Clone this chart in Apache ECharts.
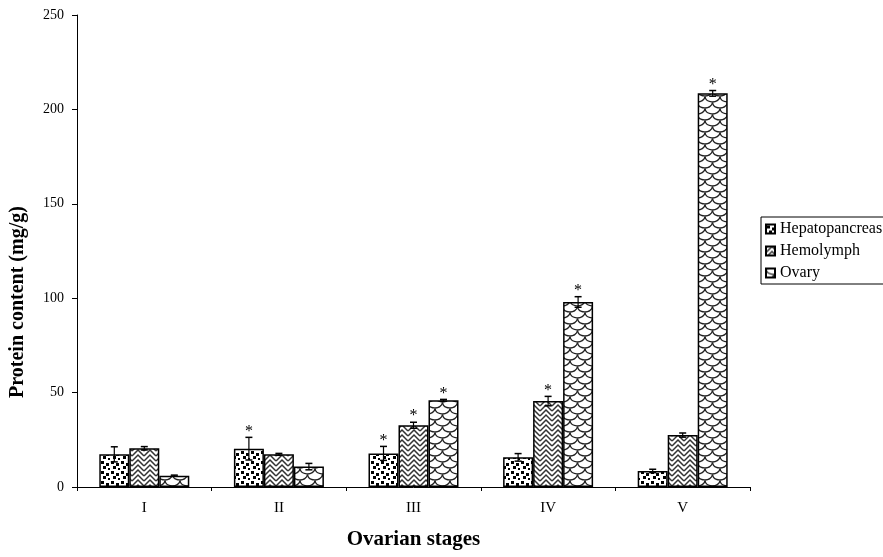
<!DOCTYPE html>
<html>
<head>
<meta charset="utf-8">
<script src="https://cdn.jsdelivr.net/npm/echarts@6/dist/echarts.min.js"></script>
<style>
html,body{margin:0;padding:0;background:#fff;}
#chart{width:883px;height:557px;}
</style>
</head>
<body>
<div id="chart"></div>
<script>
// ---- data ----
const categories = ['I', 'II', 'III', 'IV', 'V'];
const seriesNames = ['Hepatopancreas', 'Hemolymph', 'Ovary'];
const hepatopancreas = [17.3, 20.3, 17.8, 15.7, 8.5];
const hemolymph = [20.5, 17.3, 32.7, 45.5, 27.5];
const ovary = [6.0, 10.8, 45.9, 98.0, 208.5];
const hepatopancreasErr = [4.0, 6.0, 3.7, 2.0, 0.9];
const hemolymphErr = [0.9, 0.5, 1.6, 2.5, 1.1];
const ovaryErr = [0.3, 1.7, 0.5, 2.8, 1.5];
const hepatopancreasSig = [0, 1, 1, 0, 0];
const hemolymphSig = [0, 0, 1, 1, 0];
const ovarySig = [0, 0, 1, 1, 1];
const yTicks = [0, 50, 100, 150, 200, 250];

// ---- patterns ----
function makeTile(w, h, draw) {
  const c = document.createElement('canvas');
  c.width = w; c.height = h;
  const ctx = c.getContext('2d');
  ctx.fillStyle = '#fff';
  ctx.fillRect(0, 0, w, h);
  ctx.fillStyle = '#000';
  ctx.strokeStyle = '#000';
  draw(ctx);
  return c;
}
const dotTile = makeTile(10, 10, ctx => {
  ctx.fillRect(1, 1, 3, 3);
  ctx.fillRect(6, 3, 3, 3);
  ctx.fillRect(3, 6, 3, 3);
  ctx.fillRect(8, 8, 2, 2);
});
const zigTile = makeTile(12, 10, ctx => {
  ctx.lineWidth = 1.5;
  ctx.strokeStyle = '#333';
  [-10, -5, 0, 5, 10, 15].forEach(y => {
    ctx.beginPath();
    ctx.moveTo(0, y + 6); ctx.lineTo(6, y); ctx.lineTo(12, y + 6);
    ctx.stroke();
  });
});
const scaleTile = makeTile(15, 12, ctx => {
  ctx.lineWidth = 1.3;
  ctx.strokeStyle = '#222';
  const arcs = [[7.5, 0], [0, 6], [15, 6], [7.5, 12], [7.5, -12], [0, -6], [15, -6]];
  arcs.forEach(([cx, cy]) => {
    ctx.beginPath();
    ctx.ellipse(cx, cy, 7.5, 6, 0, 0.1, Math.PI - 0.1);
    ctx.stroke();
  });
});
const patterns = [dotTile, zigTile, scaleTile].map(t => ({ image: t, repeat: 'repeat' }));

const values = [hepatopancreas, hemolymph, ovary];
const errs = [hepatopancreasErr, hemolymphErr, ovaryErr];
const sigs = [hepatopancreasSig, hemolymphSig, ovarySig];

const BAR_W = 30;
const FONT = '"Liberation Serif", "Times New Roman", serif';

const errData = [];
values.forEach((arr, s) => {
  arr.forEach((v, i) => errData.push([i, s, v, errs[s][i], sigs[s][i]]));
});

const barSeries = seriesNames.map((name, s) => ({
  name: name,
  type: 'bar',
  data: values[s],
  barWidth: BAR_W,
  barGap: '0%',
  itemStyle: { color: patterns[s], borderColor: '#000', borderWidth: 1.5 },
  emphasis: { disabled: true },
  z: 2
}));

const chart = echarts.init(document.getElementById('chart'));
chart.setOption({
  animation: false,
  backgroundColor: '#fff',
  grid: { left: 77, right: 133, top: 15, bottom: 70, containLabel: false },
  legend: {
    orient: 'vertical',
    left: 761,
    top: 217,
    data: seriesNames,
    itemWidth: 9,
    itemHeight: 9,
    itemGap: 6,
    padding: [4, 6, 3, 4],
    borderColor: '#000',
    borderWidth: 1,
    textStyle: { fontFamily: FONT, fontSize: 16, color: '#000' },
    icon: 'rect',
    selectedMode: false
  },
  xAxis: {
    type: 'category',
    data: categories,
    axisLine: { lineStyle: { color: '#000', width: 1 } },
    axisTick: { show: true, length: 4, lineStyle: { color: '#000' } },
    axisLabel: { fontFamily: FONT, fontSize: 15, color: '#000', margin: 14 },
    name: 'Ovarian stages',
    nameLocation: 'middle',
    nameGap: 42,
    nameTextStyle: { fontFamily: FONT, fontSize: 21, fontWeight: 'bold', color: '#000' }
  },
  yAxis: {
    type: 'value',
    min: yTicks[0],
    max: yTicks[yTicks.length - 1],
    interval: 50,
    axisLine: { show: true, lineStyle: { color: '#000', width: 1 } },
    axisTick: { show: true, length: 5, lineStyle: { color: '#000' } },
    axisLabel: { fontFamily: FONT, fontSize: 14, color: '#000', margin: 13 },
    splitLine: { show: false }
  },
  graphic: [{
    type: 'text',
    x: 18,
    y: 302,
    rotation: Math.PI / 2,
    style: {
      text: 'Protein content (mg/g)',
      font: 'bold 20px ' + FONT,
      fill: '#000',
      textAlign: 'center',
      textVerticalAlign: 'middle'
    }
  }],
  series: barSeries.concat([{
    type: 'custom',
    data: errData,
    encode: { x: 0, y: 2 },
    z: 10,
    silent: true,
    renderItem: function (params, api) {
      const cat = api.value(0), s = api.value(1), v = api.value(2), e = api.value(3), sig = api.value(4);
      const top = api.coord([cat, v + e]);
      const bot = api.coord([cat, v - e]);
      const x = top[0] + (s - 1) * BAR_W;
      const cap = 3.5;
      const children = [
        { type: 'line', shape: { x1: x, y1: top[1], x2: x, y2: bot[1] }, style: { stroke: '#000', lineWidth: 1.2 } },
        { type: 'line', shape: { x1: x - cap, y1: top[1], x2: x + cap, y2: top[1] }, style: { stroke: '#000', lineWidth: 1.5 } },
        { type: 'line', shape: { x1: x - cap, y1: bot[1], x2: x + cap, y2: bot[1] }, style: { stroke: '#000', lineWidth: 1.5 } }
      ];
      if (sig) {
        children.push({
          type: 'text',
          x: x, y: top[1] - 6,
          style: { text: '*', font: '16px ' + FONT, fill: '#000', textAlign: 'center', textVerticalAlign: 'middle' }
        });
      }
      return { type: 'group', children: children };
    }
  }])
});
</script>
</body>
</html>
